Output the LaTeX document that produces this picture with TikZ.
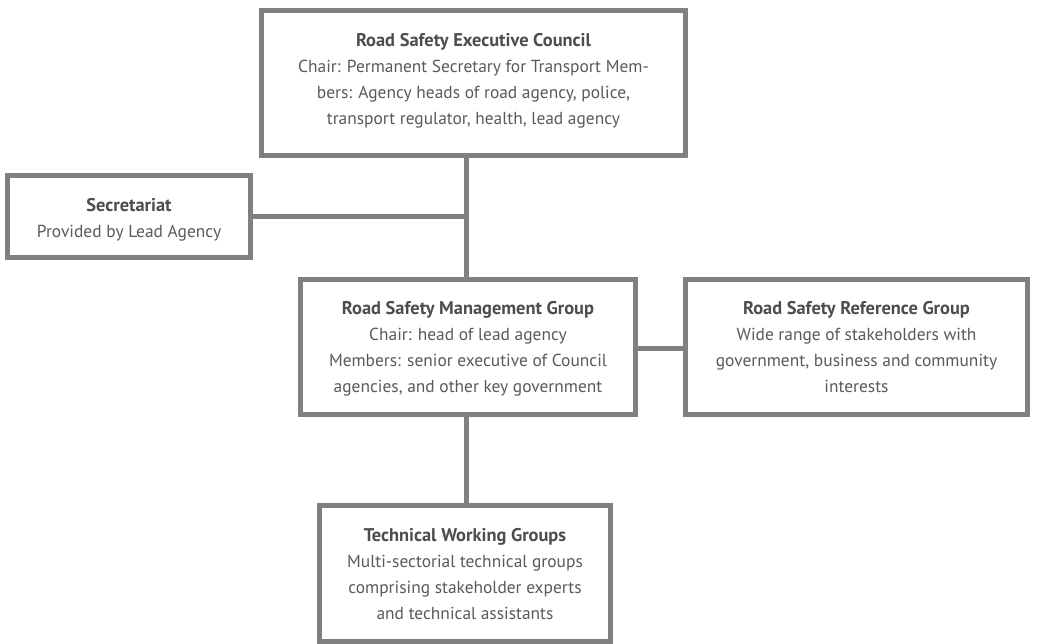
\documentclass[tikz,border=0pt]{standalone}
\usepackage{fontspec}
\setmainfont{PT Sans}
\definecolor{boxgray}{HTML}{808080}
\definecolor{txtgray}{HTML}{5A5A5A}
\definecolor{ttlgray}{HTML}{4D4D4D}
\newcommand{\ttlline}[1]{\rule{0pt}{13pt}{\color{ttlgray}\fontsize{18.4}{26.1}\selectfont\bfseries #1}}
\begin{document}
\begin{tikzpicture}[x=1pt,y=-1pt,
  box/.style={draw=boxgray, line width=5pt, fill=white, inner sep=0pt, outer sep=0pt, rectangle},
  conn/.style={draw=boxgray, line width=5pt},
  txt/.style={anchor=north, inner sep=0pt, align=center, text=txtgray,
    font=\fontsize{17.4}{26.1}\selectfont}
]
\useasboundingbox (0,0) rectangle (1037,644);
\fill[white] (0,0) rectangle (1037,644);
\coordinate (spine) at (466,0);
\coordinate (secy) at (0,217);
\coordinate (refy) at (0,349);

% boxes
\node[box, minimum width=424pt, minimum height=145pt] (council) at (473.5,83) {};
\node[box, minimum width=243pt, minimum height=82pt] (secr) at (129,216.5) {};
\node[box, minimum width=335pt, minimum height=135pt] (mgmt) at (468,347) {};
\node[box, minimum width=342pt, minimum height=135pt] (ref) at (856.5,347) {};
\node[box, minimum width=291pt, minimum height=136pt] (tech) at (465,573.5) {};

% connectors
\draw[conn] (council.south -| spine) -- (mgmt.north -| spine);
\draw[conn] (secr.east |- secy) -- (spine |- secy);
\draw[conn] (mgmt.east |- refy) -- (ref.west |- refy);
\draw[conn] (mgmt.south -| spine) -- (tech.north -| spine);

% texts
\node[txt] (tcouncil) at (473.5,33) {\ttlline{Road Safety Executive Council}\\
  Chair: Permanent Secretary for Transport Mem-\\
  bers: Agency heads of road agency, police,\\
  transport regulator, health, lead agency};
\node[txt] (tsecr) at (129,198) {\ttlline{Secretariat}\\
  Provided by Lead Agency};
\node[txt] (tmgmt) at (468,301) {\ttlline{Road Safety Management Group}\\
  Chair: head of lead agency\\
  Members: senior executive of Council\\
  agencies, and other key government};
\node[txt] (tref) at (856.5,301) {\ttlline{Road Safety Reference Group}\\
  Wide range of stakeholders with\\
  government, business and community\\
  interests};
\node[txt] (ttech) at (465,528) {\ttlline{Technical Working Groups}\\
  Multi-sectorial technical groups\\
  comprising stakeholder experts\\
  and technical assistants};
\end{tikzpicture}
\end{document}
